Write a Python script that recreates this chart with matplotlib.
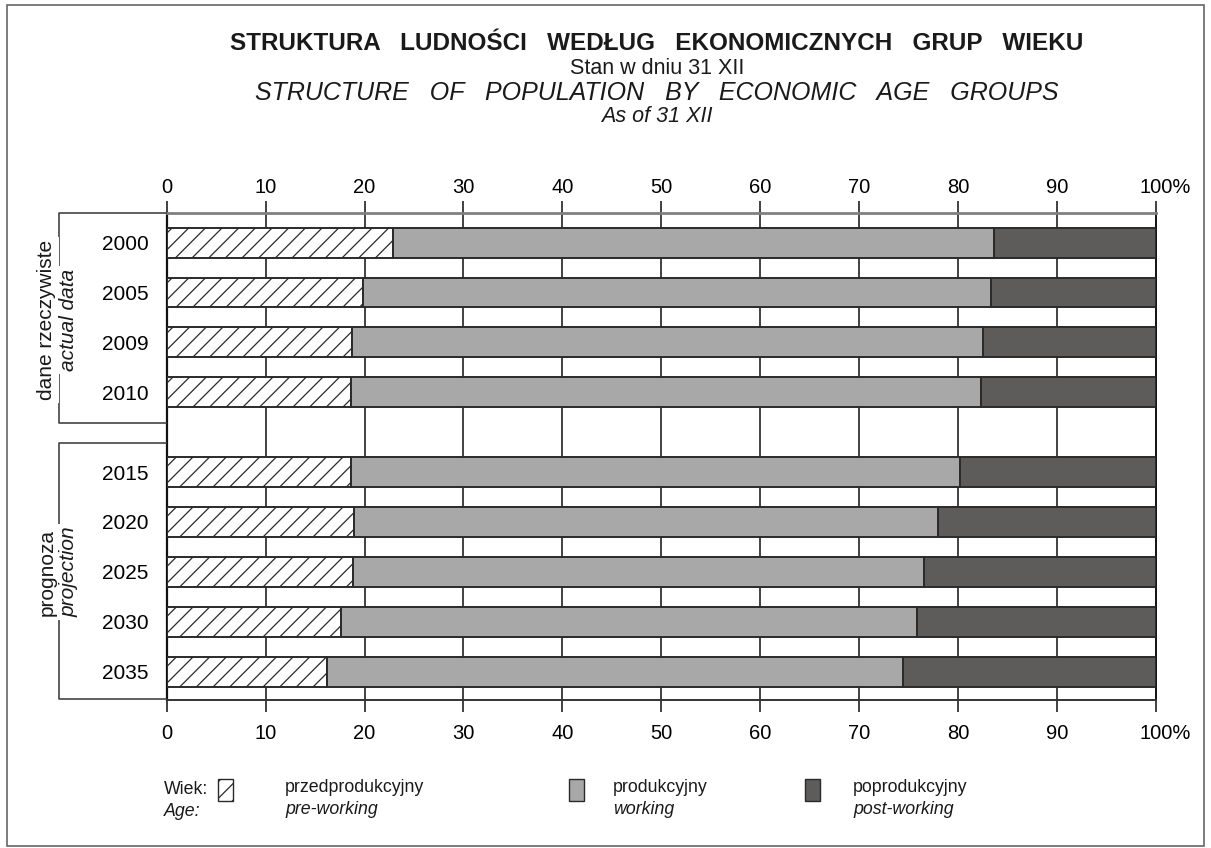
import matplotlib.pyplot as plt
import numpy as np
from matplotlib.patches import Rectangle
from matplotlib.lines import Line2D
from matplotlib.transforms import ScaledTranslation

plt.rcParams['font.family'] = ['Liberation Sans', 'DejaVu Sans']
plt.rcParams['hatch.linewidth'] = 0.9

years = ['2000', '2005', '2009', '2010', '2015', '2020', '2025', '2030', '2035']
pre_working = [22.9, 19.8, 18.7, 18.6, 18.6, 18.9, 18.8, 17.6, 16.2]
working = [60.7, 63.5, 63.8, 63.7, 61.6, 59.1, 57.8, 58.3, 58.2]
post_working = [16.4, 16.7, 17.5, 17.7, 19.8, 22.0, 23.4, 24.1, 25.6]
n_actual = 4
xticks = [0, 10, 20, 30, 40, 50, 60, 70, 80, 90, 100]
xlabels = ['0', '10', '20', '30', '40', '50', '60', '70', '80', '90', '100%']

W, H = 1211, 848
fig = plt.figure(figsize=(W / 100, H / 100), dpi=100)

def fx(px):
    return px / W

def fy(py):
    return 1 - py / H

ax = fig.add_axes([fx(166.7), fy(700), fx(989), 487.3 / H])

idx = np.arange(len(years))
ypos = idx + np.where(idx >= n_actual, 0.6, 0.0)
pre = np.array(pre_working)
wrk = np.array(working)
post = np.array(post_working)

edge = '#2a2a2a'
ax.barh(ypos, pre, height=0.6, color='white', edgecolor=edge, hatch='//', linewidth=1.4, zorder=3)
ax.barh(ypos, wrk, left=pre, height=0.6, color='#a7a8a7', edgecolor=edge, linewidth=1.4, zorder=3)
ax.barh(ypos, post, left=pre + wrk, height=0.6, color='#5d5c5a', edgecolor=edge, linewidth=1.4, zorder=3)

ax.set_xlim(0, 100)
ax.set_ylim(ypos[-1] + 0.57, -0.6)
ax.set_xticks(xticks)
ax.set_xticklabels(xlabels)
ax.set_yticks(ypos)
ax.set_yticklabels(years)
for v in xticks[1:-1]:
    ax.axvline(v, color='#333333', linewidth=1.3, zorder=1)

ax.tick_params(axis='x', top=True, labeltop=True, bottom=True, direction='out',
               length=8.6, width=1.3, color='#333333', labelsize=14.5, pad=9)
ax.tick_params(axis='y', length=0, labelsize=15, pad=13)

ax.spines['top'].set_color('#808080')
ax.spines['top'].set_linewidth(2)
ax.spines['bottom'].set_color('#333333')
ax.spines['bottom'].set_linewidth(1.4)
ax.spines['left'].set_color('#111111')
ax.spines['left'].set_linewidth(1.6)
ax.spines['right'].set_color('#111111')
ax.spines['right'].set_linewidth(1.4)

# top labels closer to the ticks; "100" centred on its tick, "%" hangs right
for i, t in enumerate(ax.xaxis.get_major_ticks()):
    dx = 6.6 / 72 if i == len(xticks) - 1 else 0
    t.label2.set_transform(t.label2.get_transform() + ScaledTranslation(dx, -6.5 / 72, fig.dpi_scale_trans))
    t.label1.set_transform(t.label1.get_transform() + ScaledTranslation(dx, 0, fig.dpi_scale_trans))

# titles
tc = 657
fig.text(fx(tc), fy(44), 'STRUKTURA   LUDNOŚCI   WEDŁUG   EKONOMICZNYCH   GRUP   WIEKU',
         ha='center', va='center', fontsize=17.5, fontweight='bold', color='#1a1a1a')
fig.text(fx(tc), fy(69), 'Stan w dniu 31 XII', ha='center', va='center', fontsize=15.5, color='#1a1a1a')
fig.text(fx(tc), fy(93), 'STRUCTURE   OF   POPULATION   BY   ECONOMIC   AGE   GROUPS',
         ha='center', va='center', fontsize=18, style='italic', color='#1a1a1a')
fig.text(fx(tc), fy(117), 'As of 31 XII', ha='center', va='center', fontsize=15.5,
         style='italic', color='#1a1a1a')

# outer frame
fig.add_artist(Rectangle((fx(7), fy(846)), fx(1197), (846 - 5) / H, transform=fig.transFigure,
                         fill=False, edgecolor='#666666', linewidth=1.2))

# group brackets
def bracket(y0, y1, label1, label2, yc):
    xs = [fx(166), fx(59), fx(59), fx(166)]
    ys = [fy(y0), fy(y0), fy(y1), fy(y1)]
    fig.add_artist(Line2D(xs, ys, color='#444444', linewidth=1.2, transform=fig.transFigure))
    fig.text(fx(47), fy(yc), label1, rotation=90, ha='center', va='center', fontsize=15,
             color='#1a1a1a', bbox=dict(facecolor='white', edgecolor='none', pad=2))
    fig.text(fx(69), fy(yc), label2, rotation=90, ha='center', va='center', fontsize=15,
             style='italic', color='#1a1a1a', bbox=dict(facecolor='white', edgecolor='none', pad=2))

bracket(213, 423, 'dane rzeczywiste', 'actual data', 320)
bracket(443, 699, 'prognoza', 'projection', 572)

# legend
fig.text(fx(164), fy(789), 'Wiek:', ha='left', va='center', fontsize=12.8, color='#1a1a1a')
fig.text(fx(164), fy(811), 'Age:', ha='left', va='center', fontsize=12.8, style='italic', color='#1a1a1a')
legend_items = [
    (fx(218), 'white', '//', fx(285), 'przedprodukcyjny', 'pre-working'),
    (fx(569), '#a7a8a7', None, fx(613), 'produkcyjny', 'working'),
    (fx(805), '#5d5c5a', None, fx(853), 'poprodukcyjny', 'post-working'),
]
for bx, col, hatch, tx, lab1, lab2 in legend_items:
    fig.add_artist(Rectangle((bx, fy(801)), fx(15), 22 / H, transform=fig.transFigure,
                             facecolor=col, edgecolor=edge, hatch=hatch, linewidth=1.0))
    fig.text(tx, fy(788), lab1, ha='left', va='center', fontsize=12.8, color='#1a1a1a')
    fig.text(tx, fy(810), lab2, ha='left', va='center', fontsize=12.8, style='italic', color='#1a1a1a')

fig.savefig('out.png', dpi=100, facecolor='white')
